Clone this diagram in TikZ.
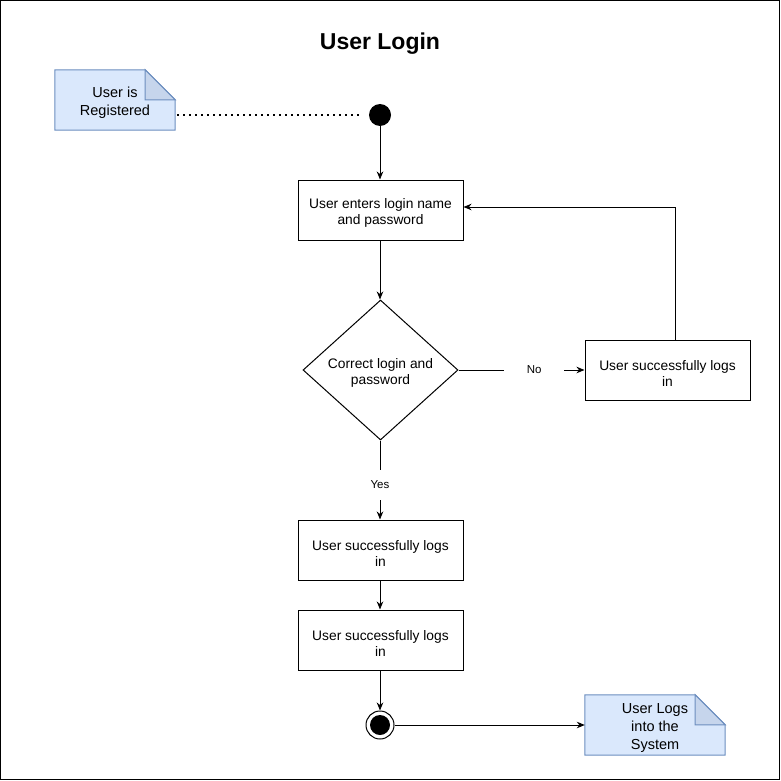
\documentclass[tikz,border=0pt]{standalone}
\usepackage{fontspec}
\setmainfont{Liberation Sans}
\usetikzlibrary{arrows.meta,shapes.geometric,calc}
\definecolor{notefill}{HTML}{DAE8FC}
\definecolor{notedraw}{HTML}{6C8EBF}
\definecolor{notefold}{HTML}{C6D5EC}
\begin{document}
\begin{tikzpicture}[x=1pt,y=-1pt,
  box/.style={draw, line width=1pt, minimum width=165pt, minimum height=60pt, inner sep=0pt,
    label={[align=center, font=\fontsize{13.8}{16}\selectfont, yshift=-3pt]center:#1}},
  notetext/.style={align=center, font=\fontsize{14.5}{18}\selectfont, inner sep=0pt, yshift=-3pt},
  notebox/.style={minimum width=#1, minimum height=60pt, inner sep=0pt},
  arr/.style={line width=1pt, -{Stealth[length=8pt,width=6.5pt,inset=2.5pt]}},
  lbl/.style={fill=white, font=\fontsize{11.5}{13}\selectfont, minimum width=60pt, minimum height=30pt, inner sep=0pt},
  dotline/.style={line width=1.4pt, dash pattern=on 1.6pt off 4.4pt},
  decision/.style={draw, line width=1pt, diamond, minimum width=155pt, minimum height=140pt, inner sep=0pt}
]
\useasboundingbox (0,0) rectangle (781,781);
\draw[line width=1pt] (0.5,0.5) rectangle (779.5,779.5);

\node[font=\fontsize{23}{26}\selectfont\bfseries] (title) at (380,44) {User Login};

% note 1
\node[notebox=120pt] (n1) at (115,100) {};
\filldraw[fill=notefill, draw=notedraw, line width=1pt]
  (n1.south west) -- (n1.north west) -- ([xshift=-30pt]n1.north east)
  -- ([yshift=-30pt]n1.north east) -- (n1.south east) -- cycle;
\filldraw[fill=notefold, draw=notedraw, line width=1pt]
  ([xshift=-30pt]n1.north east) -- ([xshift=-30pt,yshift=-30pt]n1.north east)
  -- ([yshift=-30pt]n1.north east) -- cycle;
\node[notetext] (n1t) at (n1.center) {User is\\Registered};

% start
\node[circle, fill=black, minimum size=22pt, inner sep=0pt] (start) at (380,115) {};
\draw[dotline] ([yshift=-15pt,xshift=2pt]n1.east) -- ([xshift=-7pt]start.west);

\node[box={User enters login name\\and password}] (b1) at (380.5,210) {};
\node[decision, label={[align=center,font=\fontsize{13.8}{16}\selectfont,yshift=-3pt]center:Correct login and\\password}] (dec) at (380.5,370) {};
\node[box={User successfully logs\\in}] (r) at (667.5,370) {};
\node[box={User successfully logs\\in}] (b2) at (380.5,550) {};
\node[box={User successfully logs\\in}] (b3) at (380.5,640) {};

% end
\node[circle, draw, line width=1pt, fill=white, minimum size=28pt, inner sep=0pt] (end) at (380,725) {};
\fill (end.center) circle (10pt);

% note 2
\node[notebox=140pt] (n2) at (655,725) {};
\filldraw[fill=notefill, draw=notedraw, line width=1pt]
  (n2.south west) -- (n2.north west) -- ([xshift=-30pt]n2.north east)
  -- ([yshift=-30pt]n2.north east) -- (n2.south east) -- cycle;
\filldraw[fill=notefold, draw=notedraw, line width=1pt]
  ([xshift=-30pt]n2.north east) -- ([xshift=-30pt,yshift=-30pt]n2.north east)
  -- ([yshift=-30pt]n2.north east) -- cycle;
\node[notetext] (n2t) at (n2.center) {User Logs\\into the\\System};

% connectors
\draw[arr] (start) -- (b1.north -| start);
\draw[arr] (b1.south -| start) -- (dec.north -| start);
\draw[arr] (dec.east) -- node[lbl, pos=0.6] {No} (r.west);
\draw[arr] ([xshift=8pt]r.north) |- ([yshift=3pt]b1.east);
\draw[arr] (dec.south -| start) -- node[lbl, pos=0.5625] {Yes} (b2.north -| start);
\draw[arr] (b2.south -| start) -- (b3.north -| start);
\draw[arr] (b3.south -| start) -- (end.north);
\draw[arr] (end.east) -- (n2.west);
\end{tikzpicture}
\end{document}
